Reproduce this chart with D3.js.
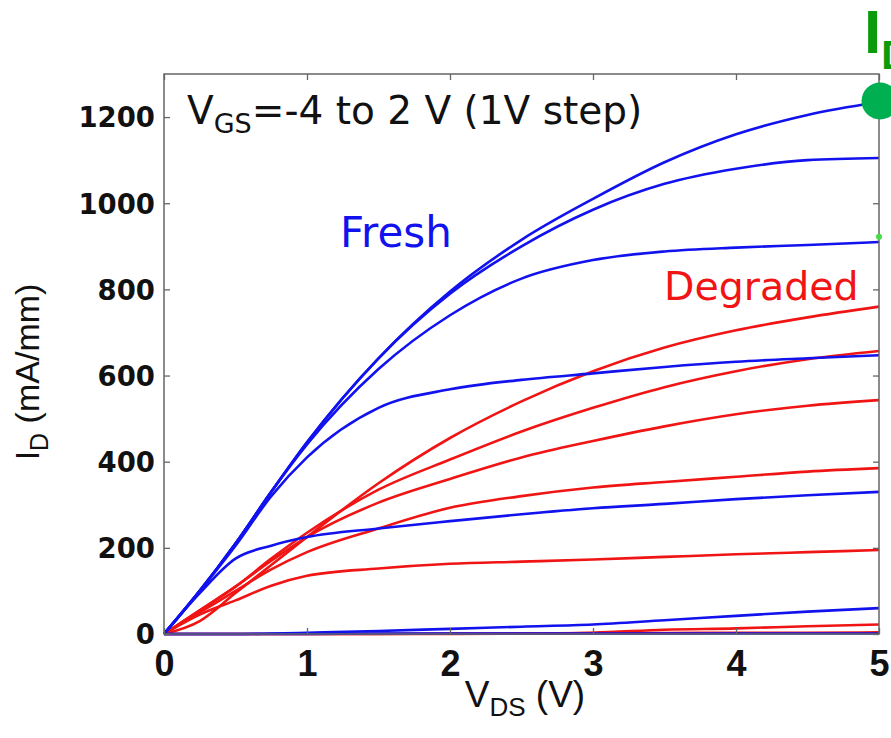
<!DOCTYPE html>
<meta charset="utf-8">
<style>
html,body{ margin:0; background:#fff; }
svg{ display:block; font-family:"Liberation Sans", Arial, sans-serif; }
</style>
<body>
<script src="https://cdn.jsdelivr.net/npm/d3@7"></script>
<script>

var width = 891, height = 738;

// drain voltage grid (V), shared by all curves
var vds = [0, 0.25, 0.5, 0.75, 1, 1.5, 2, 2.5, 3, 3.5, 4, 4.5, 5];

// fresh device, VGS = 2 .. -4 V (mA/mm)
var fresh2  = [0, 100, 210, 330, 445, 640, 795, 915, 1010, 1095, 1160, 1205, 1235];
var fresh1  = [0, 100, 210, 330, 445, 640, 790, 900, 985, 1045, 1080, 1100, 1105];
var fresh0  = [0, 100, 210, 330, 440, 615, 740, 825, 868, 888, 897, 903, 910];
var freshM1 = [0, 100, 205, 320, 410, 525, 568, 590, 605, 620, 632, 640, 647];
var freshM2 = [0, 95, 175, 205, 225, 245, 262, 278, 292, 302, 313, 322, 330];
var freshM3 = [0, 0, 0, 1, 3, 7, 12, 17, 22, 32, 42, 52, 60];
var freshM4 = [0, 0, 0, 0, 0, 1, 1, 1, 1, 1, 1, 1, 1];

// degraded device, same VGS steps
var degr2  = [0, 30, 95, 160, 225, 350, 455, 540, 610, 665, 705, 735, 760];
var degr1  = [0, 55, 110, 175, 235, 335, 405, 470, 525, 573, 610, 638, 657];
var degr0  = [0, 55, 110, 170, 225, 305, 360, 410, 448, 482, 510, 530, 543];
var degrM1 = [0, 50, 100, 150, 190, 245, 293, 320, 340, 353, 365, 377, 385];
var degrM2 = [0, 45, 78, 112, 135, 152, 163, 168, 173, 179, 185, 190, 195];
var degrM3 = [0, 0, 0, 0, 0, 0, 0, 1, 3, 10, 13, 18, 22];
var degrM4 = [0, 0, 0, 0, 0, 0, 1, 1, 2, 2, 3, 3, 4];

var freshCurves = [fresh2, fresh1, fresh0, freshM1, freshM2, freshM3, freshM4];
var degrCurves = [degr2, degr1, degr0, degrM1, degrM2, degrM3, degrM4];

var xTicks = [0, 1, 2, 3, 4, 5];
var yTicks = [0, 200, 400, 600, 800, 1000, 1200];

var svg = d3.select("body").append("svg")
    .attr("width", width)
    .attr("height", height);

var x = d3.scaleLinear().domain([0, 5]).range([164, 879]);
var y = d3.scaleLinear().domain([0, 1300]).range([634, 74]);

var line = d3.line()
    .x(function(d, i){ return x(vds[i]); })
    .y(function(d){ return y(d); })
    .curve(d3.curveMonotoneX);

// curves
svg.append("g").selectAll("path")
    .data(degrCurves)
  .enter().append("path")
    .attr("d", line)
    .attr("fill", "none")
    .attr("stroke", "#f01414")
    .attr("stroke-width", 2.6);

svg.append("g").selectAll("path")
    .data(freshCurves)
  .enter().append("path")
    .attr("d", line)
    .attr("fill", "none")
    .attr("stroke", "#1212ee")
    .attr("stroke-width", 2.6);

// matlab style box with inward ticks
var frame = svg.append("g");
frame.append("rect")
    .attr("x", x(0)).attr("y", y(1300))
    .attr("width", x(5) - x(0)).attr("height", y(0) - y(1300))
    .attr("fill", "none").attr("stroke", "#666").attr("stroke-width", 1.5);

var axB = frame.append("g").attr("transform", "translate(0," + y(0) + ")")
    .call(d3.axisBottom(x).tickValues(xTicks).tickSize(-6).tickPadding(16).tickFormat(d3.format("d")));
var axT = frame.append("g").attr("transform", "translate(0," + y(1300) + ")")
    .call(d3.axisTop(x).tickValues(xTicks).tickSize(-6).tickFormat(""));
var axL = frame.append("g").attr("transform", "translate(" + x(0) + ",0)")
    .call(d3.axisLeft(y).tickValues(yTicks).tickSize(-6).tickPadding(9).tickFormat(d3.format("d")));
var axR = frame.append("g").attr("transform", "translate(" + x(5) + ",0)")
    .call(d3.axisRight(y).tickValues(yTicks).tickSize(-6).tickFormat(""));

[axB, axT, axL, axR].forEach(function(a){
  a.select(".domain").remove();
  a.selectAll(".tick line").attr("stroke", "#666").attr("stroke-width", 1.3);
  a.selectAll("text").attr("font-weight", "bold").attr("fill", "#111");
});
axB.selectAll("text")
    .attr("font-family", "Liberation Sans, Arial, sans-serif")
    .attr("font-size", 36)
    .attr("dy", "0.72em");
axL.selectAll("text")
    .attr("font-family", "DejaVu Sans, sans-serif")
    .attr("font-size", 27.5)
    .attr("dy", "0.36em");

// axis titles
var xt = svg.append("text")
    .attr("x", 525).attr("y", 707)
    .attr("text-anchor", "middle")
    .attr("font-size", 37).attr("fill", "#111");
xt.append("tspan").text("V");
xt.append("tspan").attr("font-size", 26).attr("dy", 9).text("DS");
xt.append("tspan").attr("dy", -9).text(" (V)");

var yt = svg.append("text")
    .attr("transform", "translate(39,372) rotate(-90)")
    .attr("text-anchor", "middle")
    .attr("font-size", 34).attr("fill", "#111");
yt.append("tspan").text("I");
yt.append("tspan").attr("font-size", 25).attr("dy", 9).text("D");
yt.append("tspan").attr("dy", -9).text(" (mA/mm)");

// annotations
var ann = svg.append("text")
    .attr("x", 187).attr("y", 124)
    .attr("font-family", "DejaVu Sans, sans-serif")
    .attr("font-size", 39).attr("fill", "#111");
ann.append("tspan").text("V");
ann.append("tspan").attr("font-size", 27).attr("dy", 9).text("GS");
ann.append("tspan").attr("dy", -9).text("=-4 to 2 V (1V step)");

svg.append("text")
    .attr("x", 340).attr("y", 247)
    .attr("font-family", "DejaVu Sans, sans-serif")
    .attr("font-size", 42).attr("fill", "#1212ee")
    .text("Fresh");

svg.append("text")
    .attr("x", 664).attr("y", 300)
    .attr("font-family", "DejaVu Sans, sans-serif")
    .attr("font-size", 39.5).attr("fill", "#f01414")
    .text("Degraded");

// green marker partly off the page
var gl = svg.append("text")
    .attr("x", 864).attr("y", 53)
    .attr("font-size", 62).attr("font-weight", "bold").attr("fill", "#0a9a0a");
gl.append("tspan").text("I");
gl.append("tspan").attr("font-size", 40).attr("dy", 16).text("D");

svg.append("circle")
    .attr("cx", 880).attr("cy", 101).attr("r", 18.5)
    .attr("fill", "#00b050");
svg.append("circle")
    .attr("cx", x(5)).attr("cy", y(922)).attr("r", 3)
    .attr("fill", "#44dd44");

</script>
</body>
